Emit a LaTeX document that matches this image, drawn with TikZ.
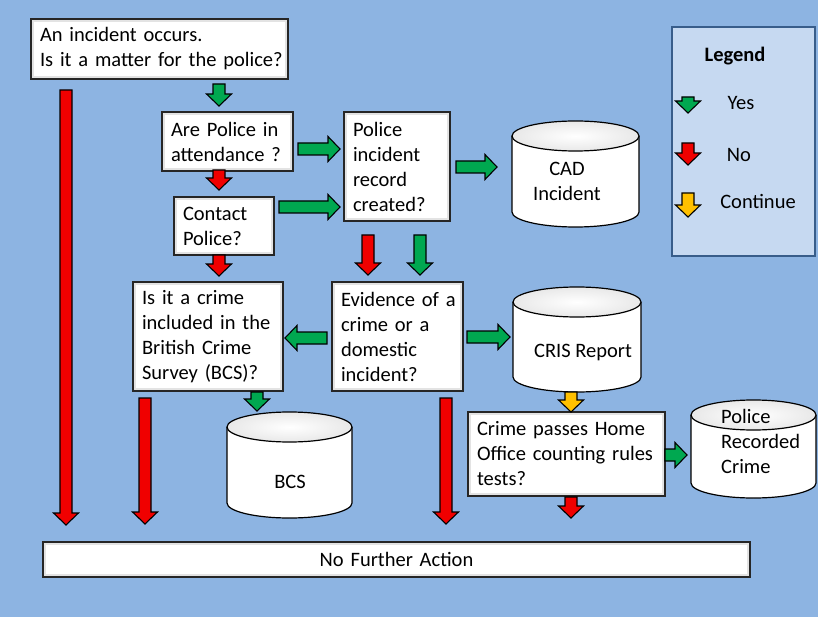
\documentclass[tikz,border=0pt]{standalone}
\usepackage{fontspec}
\setmainfont{Carlito}
\usetikzlibrary{calc}
\definecolor{bg}{RGB}{141,180,226}
\definecolor{legfill}{RGB}{198,217,241}
\definecolor{legline}{RGB}{56,93,138}
\definecolor{agreen}{RGB}{0,168,80}
\definecolor{ared}{RGB}{240,0,0}
\definecolor{ayellow}{RGB}{255,192,0}
\definecolor{boxline}{RGB}{38,38,38}
\pgfdeclarehorizontalshading{cylshade}{100bp}{color(0bp)=(gray!50); color(12bp)=(white); color(88bp)=(white); color(100bp)=(gray!50)}
\newcommand\blockarrow[3]{%
  \coordinate (ba-m) at ($(#2)!12pt!(#1)$);
  \draw[blockarr,fill=#3] ($(#1)!6pt!90:(#2)$) -- ($(ba-m)!6pt!90:(#2)$) -- ($(ba-m)!12.5pt!90:(#2)$) -- (#2) -- ($(ba-m)!12.5pt!-90:(#2)$) -- ($(ba-m)!6pt!-90:(#2)$) -- ($(#1)!6pt!-90:(#2)$) -- cycle;}
\newcommand\dbcyl[5]{%
  \path[cylside] (#1-#4,#2) -- (#1-#4,#3) arc[start angle=180,end angle=360,x radius=#4pt,y radius=#5pt] -- (#1+#4,#2) -- cycle;
  \draw[cylline] (#1-#4,#2) -- (#1-#4,#3) arc[start angle=180,end angle=360,x radius=#4pt,y radius=#5pt] -- (#1+#4,#2);
  \draw[cylline,cyltop] (#1,#2) ellipse[x radius=#4pt,y radius=#5pt];}
\newcommand\oneline[1]{\mbox{#1}}
\tikzset{
  box/.style={draw=boxline, line width=1.3pt, fill=white, inner xsep=9pt, inner ysep=0pt, align=left, font=\fontsize{20.5}{25}\selectfont,
    path picture={\draw[gray!22, line width=6pt] (path picture bounding box.south west) rectangle (path picture bounding box.north east);}},
  blockarr/.style={draw=black, line width=1.1pt, line join=miter},
  cylside/.style={shading=cylshade, shading angle=0},
  cyltop/.style={inner color=white, outer color=gray!18},
  cylline/.style={draw=black, line width=1.2pt},
  txt/.style={font=\fontsize{20.5}{25}\selectfont, inner sep=0pt},
}
\begin{document}
\begin{tikzpicture}[x=1pt,y=-1pt]
\useasboundingbox (0,0) rectangle (818,617);
\fill[bg] (0,0) rectangle (818,617);

% legend
\node[draw=legline, line width=2pt, fill=legfill, minimum width=143pt, minimum height=229pt] (legend) at (743.5,141.5) {};
\node[txt, font=\fontsize{20.5}{25}\selectfont\bfseries] (legtitle) at (735,56) {Legend};
\node[txt] (lyes) at (741,103) {Yes};
\node[txt] (lno) at (739,155) {No};
\node[txt] (lcont) at (758,201) {Continue};

% boxes
\node[box, minimum width=257pt, minimum height=60pt, text width=239pt] (q1) at (159.5,49) {\oneline{An incident occurs.}\\\oneline{Is it a matter for the police?}};
\node[box, minimum width=131pt, minimum height=59pt, text width=113pt] (q2) at (227.5,141.5) {\oneline{Are Police in}\\\oneline{attendance ?}};
\node[box, minimum width=106pt, minimum height=109pt, text width=88pt] (q3) at (397,166.5) {\oneline{Police}\\\oneline{incident}\\\oneline{record}\\\oneline{created?}};
\node[box, minimum width=100pt, minimum height=58pt, text width=82pt] (q4) at (224,226) {\oneline{Contact}\\\oneline{Police?}};
\node[box, minimum width=150pt, minimum height=109pt, text width=132pt] (q5) at (208,336.5) {\oneline{Is it a crime}\\\oneline{included in the}\\\oneline{British Crime}\\\oneline{Survey (BCS)?}};
\node[box, minimum width=131pt, minimum height=109pt, text width=113pt] (q6) at (397.5,336.5) {\oneline{Evidence of a}\\\oneline{crime or a}\\\oneline{domestic}\\\oneline{incident?}};
\node[box, minimum width=197pt, minimum height=84pt, text width=179pt] (q7) at (566.5,454) {\oneline{Crime passes Home}\\\oneline{Office counting rules}\\\oneline{tests?}};
\node[box, minimum width=707pt, minimum height=35pt, text width=689pt, align=center] (nfa) at (396.5,559.5) {No Further Action};

% cylinders
\dbcyl{575.5}{136}{212}{63.5}{15}
\dbcyl{577}{302}{377}{64}{15}
\dbcyl{289.5}{427}{503}{62.5}{15}
\dbcyl{753.5}{415}{483}{62.5}{15}
\node[txt, align=center] (cad) at (567,181) {CAD\\Incident};
\node[txt] (cris) at (583,352) {CRIS Report};
\node[txt] (bcs) at (290,482) {BCS};
\node[txt, align=left, anchor=west] (prc) at (721,441) {Police\\Recorded\\Crime};

% arrow end points
\coordinate (g1s) at (219,84);  \coordinate (g1e) at (219,106);
\coordinate (r1s) at (219,170); \coordinate (r1e) at (219,190);
\coordinate (r2s) at (219,255); \coordinate (r2e) at (219,276);
\coordinate (g2s) at (298,149); \coordinate (g2e) at (340,149);
\coordinate (g3s) at (279,207); \coordinate (g3e) at (340,207);
\coordinate (g4s) at (456,167); \coordinate (g4e) at (497,167);
\coordinate (r3s) at (368,235); \coordinate (r3e) at (368,275);
\coordinate (g5s) at (420,235); \coordinate (g5e) at (420,275);
\coordinate (g6s) at (327,338); \coordinate (g6e) at (285,338);
\coordinate (g7s) at (467,337); \coordinate (g7e) at (510,337);
\coordinate (g8s) at (257,392); \coordinate (g8e) at (257,411);
\coordinate (r4s) at (66,90);   \coordinate (r4e) at (66,525);
\coordinate (r5s) at (145,398); \coordinate (r5e) at (145,524);
\coordinate (r6s) at (446,398); \coordinate (r6e) at (446,524);
\coordinate (y1s) at (571,392); \coordinate (y1e) at (571,412);
\coordinate (g9s) at (665,455); \coordinate (g9e) at (687,455);
\coordinate (r7s) at (571,497); \coordinate (r7e) at (571,518);
\coordinate (gls) at (688,97);  \coordinate (gle) at (688,113);
\coordinate (rls) at (688,143); \coordinate (rle) at (688,165);
\coordinate (yls) at (688,193); \coordinate (yle) at (688,217);

\blockarrow{g1s}{g1e}{agreen}
\blockarrow{r1s}{r1e}{ared}
\blockarrow{r2s}{r2e}{ared}
\blockarrow{g2s}{g2e}{agreen}
\blockarrow{g3s}{g3e}{agreen}
\blockarrow{g4s}{g4e}{agreen}
\blockarrow{r3s}{r3e}{ared}
\blockarrow{g5s}{g5e}{agreen}
\blockarrow{g6s}{g6e}{agreen}
\blockarrow{g7s}{g7e}{agreen}
\blockarrow{g8s}{g8e}{agreen}
\blockarrow{r4s}{r4e}{ared}
\blockarrow{r5s}{r5e}{ared}
\blockarrow{r6s}{r6e}{ared}
\blockarrow{y1s}{y1e}{ayellow}
\blockarrow{g9s}{g9e}{agreen}
\blockarrow{r7s}{r7e}{ared}
\blockarrow{gls}{gle}{agreen}
\blockarrow{rls}{rle}{ared}
\blockarrow{yls}{yle}{ayellow}
\end{tikzpicture}
\end{document}
